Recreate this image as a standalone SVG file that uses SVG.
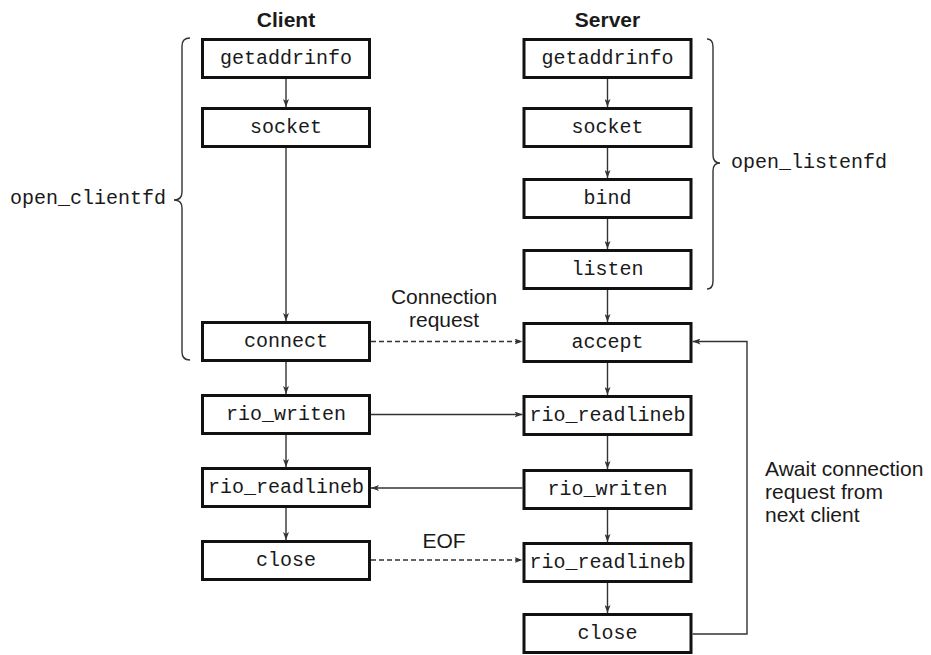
<svg xmlns="http://www.w3.org/2000/svg" width="931" height="655" viewBox="0 0 931 655">
<style>
.box{fill:#fff;stroke:#111;stroke-width:3}
.fn{font-family:"Liberation Mono","DejaVu Sans Mono",monospace;font-size:20px;fill:#1a1a1a;text-anchor:middle}
.lbl{font-family:"Liberation Sans",Arial,sans-serif;font-size:21px;fill:#1a1a1a}
.hdr{font-family:"Liberation Sans",Arial,sans-serif;font-size:21px;font-weight:bold;fill:#1a1a1a;text-anchor:middle}
.mono{font-family:"Liberation Mono","DejaVu Sans Mono",monospace;font-size:20px;fill:#1a1a1a}
.c{fill:none;stroke:#333;stroke-width:1.4;marker-end:url(#ah)}
.d{stroke-dasharray:5 3}
.brace{fill:none;stroke:#333;stroke-width:1.4}
</style>
<defs>
<marker id="ah" viewBox="0 0 8 6" refX="8" refY="3" markerWidth="8" markerHeight="6" markerUnits="userSpaceOnUse" orient="auto">
<path d="M0,0 L8,3 L0,6 L2,3 z" fill="#333"/>
</marker>
</defs>
<text class="hdr" x="286" y="27">Client</text>
<text class="hdr" x="607.5" y="27">Server</text>
<g id="braces">
<path class="brace" d="M190,38 Q182,38 182,46 L182,192 Q182,200 174,200 Q182,200 182,208 L182,352 Q182,360 190,360"/>
<text class="mono" x="10" y="204">open_clientfd</text>
<path class="brace" d="M707,39 Q713,39 713,47 L713,155 Q713,163 720,163 Q713,163 713,171 L713,281 Q713,289 707,289"/>
<text class="mono" x="731" y="168">open_listenfd</text>
</g>
<g id="c_getaddrinfo"><rect class="box" x="202.5" y="39.5" width="167" height="38"/><text class="fn" x="286" y="64">getaddrinfo</text></g>
<g id="c_socket"><rect class="box" x="202.5" y="108.5" width="167" height="38"/><text class="fn" x="286" y="133">socket</text></g>
<g id="c_connect"><rect class="box" x="202.5" y="322.5" width="167" height="38"/><text class="fn" x="286" y="347">connect</text></g>
<g id="c_rio_writen"><rect class="box" x="202.5" y="395.5" width="167" height="38"/><text class="fn" x="286" y="420">rio_writen</text></g>
<g id="c_rio_readlineb"><rect class="box" x="202.5" y="468.5" width="167" height="38"/><text class="fn" x="286" y="493">rio_readlineb</text></g>
<g id="c_close"><rect class="box" x="202.5" y="541.5" width="167" height="38"/><text class="fn" x="286" y="566">close</text></g>
<g id="s_getaddrinfo"><rect class="box" x="524" y="39.5" width="167" height="38"/><text class="fn" x="607.5" y="64">getaddrinfo</text></g>
<g id="s_socket"><rect class="box" x="524" y="108.5" width="167" height="38"/><text class="fn" x="607.5" y="133">socket</text></g>
<g id="s_bind"><rect class="box" x="524" y="179.5" width="167" height="38"/><text class="fn" x="607.5" y="204">bind</text></g>
<g id="s_listen"><rect class="box" x="524" y="250.5" width="167" height="38"/><text class="fn" x="607.5" y="275">listen</text></g>
<g id="s_accept"><rect class="box" x="524" y="323.5" width="167" height="38"/><text class="fn" x="607.5" y="348">accept</text></g>
<g id="s_rio_readlineb1"><rect class="box" x="524" y="396.5" width="167" height="38"/><text class="fn" x="607.5" y="421">rio_readlineb</text></g>
<g id="s_rio_writen"><rect class="box" x="524" y="470.5" width="167" height="38"/><text class="fn" x="607.5" y="495">rio_writen</text></g>
<g id="s_rio_readlineb2"><rect class="box" x="524" y="543.5" width="167" height="38"/><text class="fn" x="607.5" y="568">rio_readlineb</text></g>
<g id="s_close"><rect class="box" x="524" y="614.5" width="167" height="38"/><text class="fn" x="607.5" y="639">close</text></g>
<g id="connectors">
<path class="c" d="M286,79 V107"/>
<path class="c" d="M286,148 V321"/>
<path class="c" d="M286,362 V394"/>
<path class="c" d="M286,435 V467"/>
<path class="c" d="M286,508 V540"/>
<path class="c" d="M607.5,79 V107"/>
<path class="c" d="M607.5,148 V178"/>
<path class="c" d="M607.5,219 V249"/>
<path class="c" d="M607.5,290 V322"/>
<path class="c" d="M607.5,363 V395"/>
<path class="c" d="M607.5,436 V469"/>
<path class="c" d="M607.5,510 V542"/>
<path class="c" d="M607.5,583 V613"/>
<path class="c d" d="M371,341.5 H522.5"/>
<path class="c" d="M371,414.5 H522.5"/>
<path class="c" d="M522.5,488 H371"/>
<path class="c d" d="M371,560 H522.5"/>
<path class="c" d="M692.5,634 H747 V341.5 H692.5"/>
</g>
<g id="labels">
<text class="lbl" x="444" y="304" text-anchor="middle">Connection</text>
<text class="lbl" x="444" y="327" text-anchor="middle">request</text>
<text class="lbl" x="444" y="548" text-anchor="middle">EOF</text>
<text class="lbl" x="765" y="476">Await connection</text>
<text class="lbl" x="765" y="499">request from</text>
<text class="lbl" x="765" y="522">next client</text>
</g>
</svg>
